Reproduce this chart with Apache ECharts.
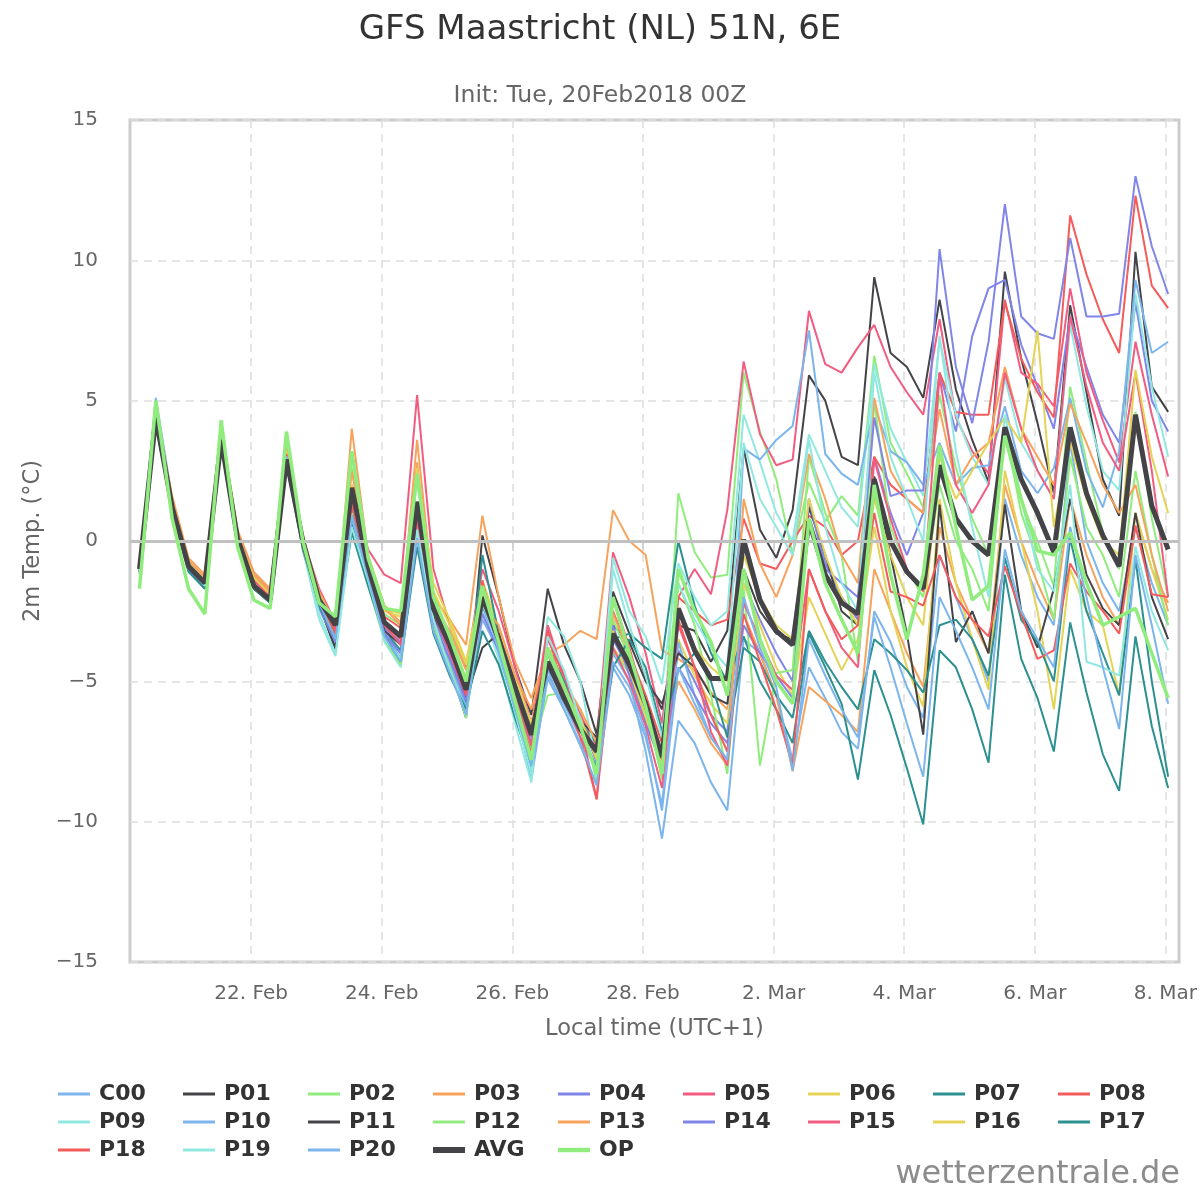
<!DOCTYPE html>
<html>
<head>
<meta charset="utf-8">
<script src="https://cdn.jsdelivr.net/npm/echarts@6/dist/echarts.min.js"></script>
<style>
html,body{margin:0;padding:0;background:#fff;}
#chart{width:1200px;height:1200px;}
</style>
</head>
<body>
<div id="chart"></div>
<script>
// time of each point: hours after 20 Feb 2018 00:00 local time (UTC+1), 6-hourly from 07:00
const hours = Array.from({length: 64}, (_, i) => 7 + 6 * i);
const tickHours = [48, 96, 144, 192, 240, 288, 336, 384];
const tickLabels = ['22. Feb', '24. Feb', '26. Feb', '28. Feb', '2. Mar', '4. Mar', '6. Mar', '8. Mar'];
const yTicks = [-15, -10, -5, 0, 5, 10, 15];

const C00 = [-1.0, 5.1, 1.5, -0.8, -1.6, 3.9, 0.2, -1.4, -2.0, 3.1, 0.0, -2.2, -3.3,
  1.0, -1.2, -3.3, -4.0, 0.8, -2.8, -4.2, -5.7, -2.4, -4.1, -5.9, -8.5, -4.8, -5.8, -7.0, -8.2, -4.0, -5.0, -7.5, -10.6,
  -6.4, -7.2, -8.6, -9.6, -3.5, -4.0, -5.5, -7.8, -4.5, -5.6, -6.8, -7.4, -2.5, -3.6, -5.2, -6.3, -0.5, -2.0, -3.5, -5.0, 1.5, -0.5, -2.0, -3.0, 3.5, 0.0, -1.5, -2.5, 0.5, -1.5, -3.0];
const P01 = [-1.1, 4.1, 1.2, -1.0, -1.7, 3.5, 0.0, -1.7, -2.2, 2.8, -0.2, -2.3, -3.8,
  1.2, -1.3, -3.4, -4.2, 0.6, -3.1, -4.5, -6.3, 0.2, -2.0, -4.5, -6.2, -1.7, -3.7, -5.0, -6.9, -1.8, -3.3, -4.8, -6.0,
  -3.0, -3.2, -4.3, -3.2, 3.3, 0.4, -0.6, 1.1, 5.9, 5.0, 3.0, 2.7, 9.4, 6.7, 6.2, 5.1, 8.6, 5.4, 3.6, 2.1, 9.6, 6.5, 4.2, 1.7, 8.4, 5.3, 2.2, 0.9, 10.3, 5.5, 4.6];
const P02 = [-1.2, 4.9, 1.4, -0.8, -1.5, 4.2, 0.2, -1.3, -1.9, 3.6, 0.1, -2.0, -3.2,
  2.6, -0.6, -2.6, -3.0, 2.2, -2.2, -3.3, -4.9, -1.5, -3.3, -5.0, -7.5, -5.5, -5.4, -6.0, -8.6, -3.9, -4.7, -6.2, -8.0,
  1.7, -0.4, -1.3, -1.2, 6.0, 3.9, 2.2, -0.5, 2.1, 0.7, 1.6, 0.9, 6.6, 3.5, 2.4, 1.2, 5.2, 2.6, 0.8, -0.5, 3.8, 1.4, 0.0, -1.6, 5.5, 2.8, 0.3, -1.0, 4.6, 0.8, -2.0];
const P03 = [-0.9, 4.6, 1.6, -0.6, -1.2, 4.0, 0.4, -1.1, -1.7, 3.3, 0.2, -1.9, -3.1,
  4.0, -0.5, -2.3, -2.9, 3.6, -2.0, -2.8, -3.7, 0.9, -2.0, -4.3, -5.6, -4.0, -3.7, -3.2, -3.5, 1.1, 0.0, -0.5, -3.9,
  -4.2, -4.6, -5.4, -6.0, -2.6, -4.0, -5.5, -8.2, -5.2, -5.7, -6.2, -6.8, -1.0, -2.5, -4.0, -5.2, 0.5, -1.5, -2.8, -4.0, 2.0, 0.0, -1.5, -2.8, 1.5, -0.5, -2.0, -3.0, 1.0, -1.0, -2.2];
const P04 = [-1.0, 4.5, 1.3, -0.9, -1.6, 3.7, 0.1, -1.5, -2.1, 3.0, -0.1, -2.3, -3.5,
  1.2, -1.0, -3.1, -3.6, 1.0, -2.7, -4.0, -5.5, -2.3, -3.7, -5.3, -7.0, -4.5, -5.6, -6.6, -7.6, -3.5, -4.6, -6.0, -7.8,
  -3.9, -5.0, -6.2, -6.8, -1.5, -2.8, -4.0, -5.0, 1.5, -0.8, -2.0, -2.8, 3.0, 1.0, -0.5, 1.0, 6.0, 3.9, 7.3, 9.0, 9.3, 7.0, 5.5, 4.0, 8.0, 6.2, 4.5, 3.5, 8.5, 5.0, 3.9];
const P05 = [-1.0, 4.7, 1.4, -0.8, -1.4, 3.9, 0.3, -1.2, -1.8, 3.2, 0.1, -1.7, -2.9,
  2.0, -0.3, -1.2, -1.5, 5.2, -1.0, -3.0, -4.5, -1.0, -2.5, -4.5, -6.5, -3.5, -4.8, -6.2, -7.3, -0.4, -2.0, -4.0, -6.5,
  -2.0, -1.0, -1.9, 1.1, 6.4, 3.8, 2.7, 2.9, 8.2, 6.3, 6.0, 6.9, 7.7, 6.2, 5.3, 4.5, 7.9, 4.4, 3.2, 2.4, 8.6, 6.0, 5.6, 4.8, 9.0, 6.0, 4.3, 2.8, 7.1, 4.5, 2.3];
const P06 = [-1.0, 4.6, 1.3, -0.9, -1.5, 3.8, 0.2, -1.4, -2.0, 3.1, 0.0, -2.1, -3.1,
  1.5, -0.8, -2.5, -2.7, 2.4, -1.5, -2.8, -4.3, -1.4, -3.1, -4.8, -6.5, -4.0, -5.0, -6.5, -7.6, -3.8, -4.6, -6.3, -8.0,
  -3.5, -4.8, -5.8, -6.5, -1.5, -3.0, -4.5, -5.5, -2.0, -3.3, -4.6, -3.5, 0.5, -2.5, -4.5, -5.9, 1.5, -1.5, -3.5, -5.3, 2.5, 0.0, -2.5, -6.0, -1.0, -2.5, -3.0, -5.5, 1.0, -1.0, -2.8];
const P07 = [-1.1, 4.5, 1.2, -1.0, -1.6, 3.7, 0.0, -1.6, -2.1, 2.9, -0.2, -2.2, -3.4,
  0.6, -1.4, -3.2, -3.9, 0.2, -3.0, -4.5, -5.8, -0.5, -3.3, -5.3, -7.3, -4.6, -5.2, -6.5, -7.2, -3.5, -3.3, -3.8, -4.2,
  0.0, -2.3, -4.0, -5.0, -3.4, -5.0, -6.0, -7.2, -3.3, -4.5, -5.8, -8.5, -4.6, -6.2, -8.1, -10.1, -3.9, -4.5, -6.0, -7.9, -1.2, -4.2, -5.6, -7.5, -2.9, -5.4, -7.6, -8.9, -3.4, -6.6, -8.8];
const P08 = [-1.0, 4.6, 1.3, -0.8, -1.5, 3.9, 0.2, -1.3, -1.9, 3.2, 0.0, -2.0, -3.2,
  1.6, -0.7, -2.7, -3.1, 1.3, -2.3, -3.6, -5.1, -1.9, -3.3, -5.1, -6.9, -3.0, -5.0, -6.5, -7.4, -2.5, -4.0, -5.5, -7.2,
  -2.0, -2.5, -3.0, -2.8, 0.8, -0.8, -1.0, 0.0, 0.9, 0.5, -0.5, 0.0, 3.0, 2.0, 1.5, 1.0, 6.0, 4.6, 4.5, 4.5, 8.5, 6.5, 5.3, 4.4, 11.6, 9.5, 7.9, 6.7, 12.3, 9.1, 8.3];
const P09 = [-1.1, 4.8, 1.3, -0.9, -1.6, 3.8, 0.0, -1.6, -2.2, 3.0, -0.3, -2.8, -4.1,
  0.4, -1.5, -3.6, -4.5, 0.3, -3.0, -4.5, -6.0, -2.5, -4.2, -6.5, -8.6, -2.7, -3.4, -5.0, -8.0, -0.6, -2.5, -3.4, -5.1,
  -0.8, -2.0, -3.0, -2.5, 4.5, 2.8, 1.0, 0.0, 3.8, 2.5, 1.2, 0.5, 6.3, 4.0, 2.8, 1.6, 7.2, 4.5, 3.0, 2.0, 5.8, 3.5, 2.5, 1.5, 7.7, 4.8, 2.5, 1.8, 8.8, 5.5, 3.0];
const P10 = [-1.0, 4.7, 1.4, -0.8, -1.5, 3.8, 0.1, -1.5, -2.0, 3.0, -0.1, -2.1, -3.4,
  0.8, -1.1, -3.2, -4.2, 0.5, -3.0, -4.3, -5.9, -2.8, -3.9, -5.7, -8.2, -4.9, -6.0, -7.3, -8.7, -4.5, -5.5, -7.0, -9.4,
  -3.6, -5.5, -7.0, -7.8, 3.3, 2.9, 3.6, 4.1, 7.5, 3.1, 2.4, 2.0, 4.8, 3.2, 2.8, 2.0, 3.5, 2.0, 2.6, 2.7, 4.8, 2.5, 1.7, 2.6, 5.1, 2.5, 1.2, 3.2, 9.3, 6.7, 7.1];
const P11 = [-1.0, 4.3, 1.1, -1.0, -1.6, 3.6, 0.1, -1.6, -2.1, 2.9, -0.1, -2.2, -3.9,
  1.5, -1.0, -3.2, -3.7, 1.2, -2.6, -3.9, -5.6, -3.8, -3.3, -5.5, -6.7, -4.0, -5.4, -6.4, -7.0, -3.0, -3.6, -5.0, -5.8,
  -4.0, -4.5, -5.5, -5.8, -1.0, -2.5, -3.3, -3.5, 1.2, -0.5, -2.5, -3.0, 2.3, -0.5, -3.3, -6.9, 1.3, -3.6, -2.5, -4.0, 1.3, -2.5, -3.8, -1.7, 1.5, -1.2, -2.4, -3.0, 1.0, -2.0, -3.5];
const P12 = [-1.2, 4.8, 1.3, -0.9, -1.6, 4.1, 0.1, -1.5, -2.0, 3.4, 0.0, -2.1, -3.3,
  1.0, -1.6, -3.5, -4.4, 0.5, -3.0, -4.5, -6.3, -2.2, -3.6, -5.5, -7.5, -4.0, -5.3, -6.6, -8.3, -2.8, -4.2, -5.8, -8.5,
  -1.5, -3.0, -5.5, -8.3, -1.7, -8.0, -4.7, -4.6, 3.0, 1.0, -0.5, -4.3, 5.0, 0.5, -1.0, -2.0, 2.0, 0.0, -1.0, -2.5, 4.0, 1.0, -0.7, -2.8, 3.0, 0.5, -0.5, -2.0, 2.5, -0.5, -3.0];
const P13 = [-0.9, 4.6, 1.5, -0.7, -1.3, 3.9, 0.3, -1.2, -1.8, 3.3, 0.1, -1.8, -3.0,
  2.5, -0.8, -2.4, -3.0, 2.8, -2.3, -3.2, -4.6, -2.3, -3.0, -4.8, -6.0, -3.8, -5.0, -6.0, -7.2, -2.6, -4.0, -5.8, -7.5,
  -5.0, -6.0, -7.2, -8.0, 1.5, -0.8, -2.0, -0.5, 3.1, 1.5, -0.5, -1.5, 5.1, 2.5, 1.5, 1.0, 4.7, 2.0, 3.0, 3.5, 6.2, 4.0, 3.0, 2.0, 4.9, 3.5, 2.0, 1.0, 2.0, -0.5, -2.5];
const P14 = [-1.0, 4.4, 1.2, -1.0, -1.6, 3.6, 0.0, -1.6, -2.2, 2.9, -0.2, -2.4, -3.6,
  0.9, -1.2, -3.3, -4.0, 0.8, -2.9, -4.2, -5.7, -2.6, -3.9, -5.6, -7.2, -4.3, -5.3, -6.3, -7.9, -3.0, -4.8, -6.5, -8.0,
  -4.5, -5.5, -6.5, -7.2, -3.0, -4.0, -4.8, -5.6, 1.5, -1.0, -1.5, -2.0, 4.4, 1.6, 1.8, 1.8, 10.4, 6.2, 4.2, 7.1, 12.0, 8.0, 7.4, 7.2, 10.8, 8.0, 8.0, 8.1, 13.0, 10.5, 8.8];
const P15 = [-1.0, 4.6, 1.4, -0.9, -1.5, 3.8, 0.1, -1.4, -2.0, 3.1, 0.0, -2.0, -3.2,
  1.5, -0.9, -3.0, -3.7, 0.7, -2.5, -4.0, -5.5, -1.7, -3.5, -5.4, -7.3, -3.0, -4.8, -6.6, -9.2, -3.8, -5.0, -6.6, -8.8,
  -3.0, -4.5, -6.8, -8.0, -2.2, -3.5, -4.8, -5.3, -1.0, -2.5, -3.8, -4.5, 2.9, 0.8, -1.0, -1.8, 5.9, 2.0, 1.0, 2.0, 6.0, 4.0, 2.5, 1.5, 8.0, 5.5, 3.5, 2.5, 6.0, 2.5, -2.0];
const P16 = [-1.0, 4.7, 1.4, -0.8, -1.4, 3.9, 0.2, -1.3, -1.9, 3.2, 0.1, -1.9, -3.0,
  2.0, -0.6, -2.4, -2.6, 2.6, -1.8, -3.0, -4.4, -1.9, -3.5, -5.2, -6.8, -4.4, -5.3, -6.3, -7.8, -3.2, -4.5, -6.0, -7.9,
  -2.5, -3.8, -4.5, -5.0, -0.5, -2.0, -3.0, -3.5, 1.5, -0.5, -2.0, -3.0, 1.5, -0.5, -2.0, -3.0, 3.0, 1.5, 2.5, 3.5, 4.4, 3.5, 7.5, 0.5, 3.5, 1.5, 0.0, -0.5, 6.1, 3.0, 1.0];
const P17 = [-1.1, 4.4, 1.1, -1.1, -1.7, 3.6, -0.1, -1.7, -2.2, 2.8, -0.3, -2.3, -3.5,
  0.3, -1.6, -3.4, -4.3, -0.2, -3.3, -4.8, -6.0, -3.2, -4.4, -6.3, -8.0, -3.8, -5.0, -6.7, -8.1, -4.5, -3.5, -4.5, -6.8,
  -4.6, -4.0, -5.0, -7.0, -3.8, -4.3, -5.5, -6.3, -3.2, -4.3, -5.2, -6.0, -3.5, -4.0, -4.6, -5.4, -3.0, -2.8, -3.5, -4.8, -0.6, -2.8, -3.6, -5.0, 0.1, -2.5, -4.0, -5.5, -0.65, -5.0, -8.4];
const P18 = [-1.1, 4.6, 1.3, -0.9, -1.5, 3.8, 0.1, -1.5, -2.0, 3.1, -0.1, -2.1, -3.3,
  1.3, -1.0, -3.0, -3.5, 1.1, -2.5, -3.8, -5.4, -1.4, -3.8, -5.6, -7.6, -3.2, -5.5, -7.0, -9.2, -2.0, -3.8, -5.8, -7.8,
  -2.8, -4.5, -6.2, -7.5, -2.6, -4.3, -6.0, -8.0, -1.0, -2.5, -3.5, -3.0, 1.0, -1.8, -2.0, -2.3, -0.5, -2.0, -2.8, -3.4, -0.9, -2.6, -4.2, -3.9, -0.8, -1.8, -2.5, -3.3, 0.55, -1.9, -2.0];
const P19 = [-1.1, 4.7, 1.3, -0.9, -1.6, 3.8, 0.0, -1.6, -2.1, 3.0, -0.2, -2.6, -4.0,
  0.5, -1.4, -3.5, -4.2, 0.4, -2.8, -4.6, -6.2, -2.2, -3.8, -6.1, -8.3, -3.4, -4.6, -6.4, -8.4, -1.0, -3.0, -4.8, -7.0,
  -1.5, -2.8, -3.8, -4.5, 3.5, 1.5, 0.5, -0.5, 3.6, 0.5, -1.5, -2.5, 6.0, 3.0, 1.5, 0.0, 7.3, 3.2, 0.5, -2.0, 4.5, 1.5, -1.0, -1.8, 2.0, -4.3, -4.5, -4.8, -0.2, -2.5, -3.9];
const P20 = [-1.0, 4.6, 1.3, -0.9, -1.5, 3.8, 0.1, -1.5, -2.1, 3.0, 0.0, -2.2, -3.5,
  0.9, -1.3, -3.4, -4.3, 0.1, -3.2, -4.7, -6.2, -2.0, -3.9, -6.0, -8.0, -4.6, -6.0, -7.2, -8.7, -4.3, -5.2, -6.8, -9.6,
  -4.5, -5.8, -7.0, -7.8, -2.0, -3.8, -5.2, -8.2, -3.5, -4.8, -6.0, -7.0, -2.7, -4.5, -6.5, -8.4, -2.0, -3.2, -4.5, -6.0, -0.3, -2.5, -3.5, -4.5, 0.5, -2.0, -4.5, -6.7, -0.5, -3.0, -5.8];
const AVG = [-1.0, 4.4, 1.2, -0.9, -1.5, 3.6, 0.1, -1.6, -2.1, 2.9, 0.0, -2.1, -3.0,
  1.9, -0.9, -2.9, -3.4, 1.4, -2.4, -3.7, -5.3, -2.0, -3.5, -5.2, -6.9, -4.3, -5.6, -6.7, -7.5, -3.3, -4.4, -5.8, -7.7,
  -2.4, -3.9, -4.9, -4.9, 0.05, -2.1, -3.2, -3.7, 0.7, -1.2, -2.2, -2.6, 2.2, 0.0, -1.1, -1.7, 2.7, 0.8, 0.0, -0.5, 4.05, 2.2, 1.0, -0.4, 4.05, 1.7, 0.2, -0.9, 4.5, 1.25, -0.3];
const OP = [-1.7, 5.0, 0.8, -1.7, -2.6, 4.3, -0.2, -2.1, -2.4, 3.9, 0.0, -2.2, -2.7,
  3.2, -0.6, -2.4, -2.5, 2.4, -2.0, -3.4, -5.0, -1.6, -3.6, -5.7, -7.8, -3.8, -5.2, -6.6, -8.3, -2.0, -4.0, -5.9, -8.3,
  -1.0, -2.5, -3.6, -5.5, -1.0, -3.5, -5.0, -5.8, 0.8, -1.5, -2.8, -4.0, 2.0, -1.2, -3.5, -1.2, 3.4, 0.5, -2.1, -1.6, 3.75, 1.5, -0.35, -0.5, 0.3, -1.5, -3.0, -2.7, -2.4, -4.0, -5.6];

const seriesNames = ['C00','P01','P02','P03','P04','P05','P06','P07','P08','P09','P10','P11','P12','P13','P14','P15','P16','P17','P18','P19','P20','AVG','OP'];
const seriesValues = [C00,P01,P02,P03,P04,P05,P06,P07,P08,P09,P10,P11,P12,P13,P14,P15,P16,P17,P18,P19,P20,AVG,OP];
const palette = ['#7cb5ec','#434348','#90ed7d','#f7a35c','#8085e9','#f15c80','#e4d354','#2b908f','#f45b5b','#91e8e1'];

const FONT = 'DejaVu Sans';
const chart = echarts.init(document.getElementById('chart'), null, {renderer: 'canvas'});

const colorOf = (name, k) => name === 'AVG' ? '#434348' : name === 'OP' ? '#90ed7d' : palette[k % 10];
const widthOf = name => name === 'AVG' ? 5 : name === 'OP' ? 3.5 : 2;

const series = seriesNames.map((name, k) => {
  const color = colorOf(name, k);
  return {
    name, type: 'line', symbol: 'none', animation: false,
    data: hours.map((h, i) => [h, seriesValues[k][i]]),
    lineStyle: {width: widthOf(name), color},
    itemStyle: {color},
    z: name === 'AVG' ? 4 : name === 'OP' ? 5 : 3
  };
});
// zero line
series.push({
  type: 'line', data: [], silent: true, z: 2,
  markLine: {silent: true, symbol: 'none', label: {show: false},
    lineStyle: {color: '#c0c0c0', width: 3, type: 'solid'},
    data: [{yAxis: 0}]}
});

// one legend per entry, laid out on a 9-column grid
const legends = seriesNames.map((name, k) => ({
  data: [name], left: 58 + (k % 9) * 125, top: 1083 + Math.floor(k / 9) * 28,
  padding: 0, icon: 'rect', itemWidth: 32,
  itemHeight: name === 'AVG' ? 6 : name === 'OP' ? 4.5 : 3,
  selectedMode: false,
  textStyle: {fontFamily: FONT, fontSize: 22, fontWeight: 'bold', color: '#333', padding: [0, 0, 0, 4]}
}));

chart.setOption({
  backgroundColor: '#fff',
  animation: false,
  title: [
    {text: 'GFS Maastricht (NL) 51N, 6E', left: 'center', top: 8,
     textStyle: {fontFamily: FONT, fontSize: 34, fontWeight: 'normal', color: '#333'}},
    {text: 'Init: Tue, 20Feb2018 00Z', left: 'center', top: 79,
     textStyle: {fontFamily: FONT, fontSize: 23.5, fontWeight: 'normal', color: '#666'}}
  ],
  legend: legends,
  grid: {left: 130, right: 20, top: 120, bottom: 238, show: true, borderColor: '#cccccc', borderWidth: 3, containLabel: false},
  xAxis: {
    type: 'value', min: 3.5, max: 389,
    name: 'Local time (UTC+1)', nameLocation: 'middle', nameGap: 56,
    nameTextStyle: {fontFamily: FONT, fontSize: 22.5, color: '#666'},
    axisLine: {show: false},
    axisTick: {show: true, customValues: tickHours, length: 10, lineStyle: {color: '#cccccc', width: 1.5}},
    axisLabel: {customValues: tickHours, fontFamily: FONT, fontSize: 20, color: '#666', margin: 22,
      formatter: v => tickLabels[tickHours.indexOf(v)] || ''},
    splitLine: {show: true, lineStyle: {color: '#dddddd', type: [8, 6], width: 1.5}}
  },
  yAxis: {
    type: 'value', min: -15, max: 15, interval: 5,
    name: '2m Temp. (°C)', nameLocation: 'middle', nameGap: 78,
    nameTextStyle: {fontFamily: FONT, fontSize: 22.5, color: '#666'},
    axisLine: {show: false}, axisTick: {show: false},
    axisLabel: {fontFamily: FONT, fontSize: 20, color: '#666', margin: 32,
      formatter: v => yTicks.includes(v) ? String(v).replace('-', '\u2212') : ''},
    splitLine: {show: true, lineStyle: {color: '#dddddd', type: [8, 6], width: 1.5}}
  },
  graphic: [{
    type: 'text', right: 20, top: 1159,
    style: {text: 'wetterzentrale.de', fontFamily: FONT, fontSize: 32, fill: '#8c8c8c'}
  }],
  series
});
</script>
</body>
</html>
